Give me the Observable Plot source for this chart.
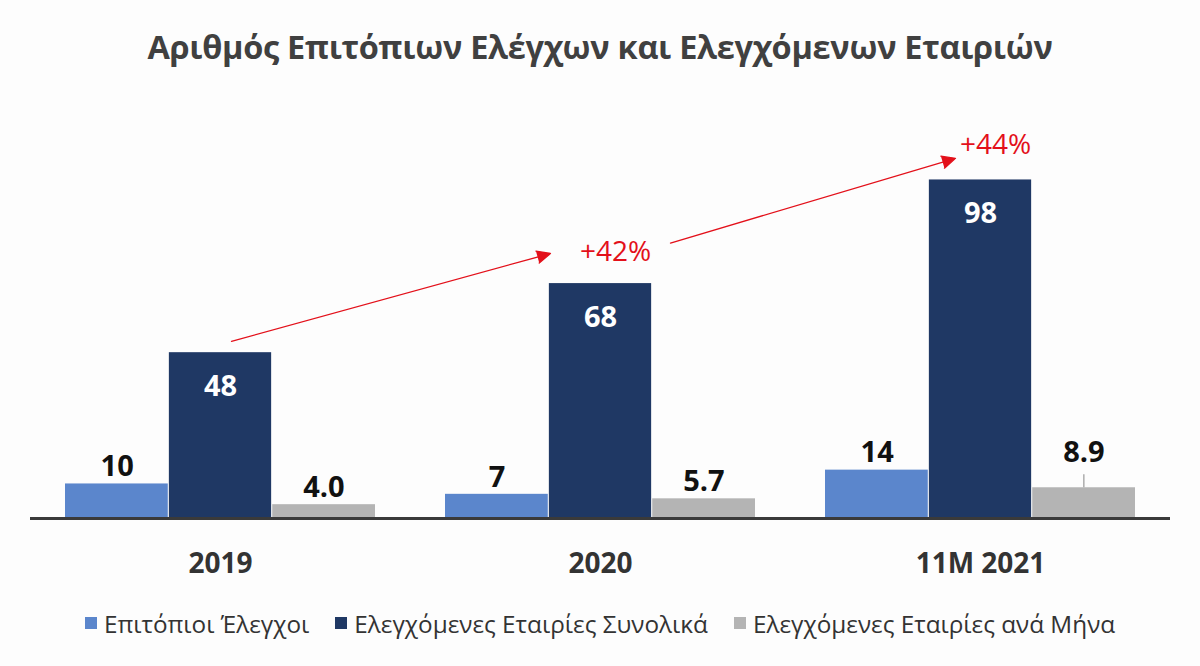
<!DOCTYPE html>
<html>
<head>
<meta charset="utf-8">
<script src="https://cdn.jsdelivr.net/npm/d3@7"></script>
<script src="https://cdn.jsdelivr.net/npm/@observablehq/plot@0.6"></script>
<style>
  html, body { margin: 0; padding: 0; background: #fdfdfd; }
  body { width: 1200px; height: 666px; overflow: hidden; font-family: "Open Sans", sans-serif; }
  #title { height: 100px; box-sizing: border-box; padding-top: 24px; text-align: center;
           font-size: 32.5px; font-weight: 700; color: #404040; letter-spacing: -0.3px; }
  #chart { height: 490px; }
  #legend { height: 76px; display: flex; justify-content: center; align-items: center; gap: 26px;
            font-size: 24.3px; color: #333; padding-bottom: 10px; box-sizing: border-box; }
  .item { display: flex; align-items: center; gap: 7px; }
  .sw { width: 12px; height: 12px; display: inline-block; }
</style>
</head>
<body>
<div id="title">Αριθμός Επιτόπιων Ελέγχων και Ελεγχόμενων Εταιριών</div>
<div id="chart"></div>
<div id="legend"></div>
<script>
// ---- data ----
const years = ["2019", "2020", "11M 2021"];
const seriesNames = ["Επιτόπιοι Έλεγχοι", "Ελεγχόμενες Εταιρίες Συνολικά", "Ελεγχόμενες Εταιρίες ανά Μήνα"];
const seriesColors = ["#5b86cc", "#1f3864", "#b4b4b4"];
const inspections = [10, 7, 14];
const totalCompanies = [48, 68, 98];
const perMonth = [4.0, 5.7, 8.9];
const growthLabels = ["+42%", "+44%"];
const growthLabelValue = [77, 108];
const arrowFrom = ["2019", "2020"];
const arrowTo = ["2020", "11M 2021"];
const arrowFromValue = [50.4, 73.7];
const arrowToValue = [80.7, 106.4];

const rows = years.map((year, i) => ({year, inspections: inspections[i], total: totalCompanies[i], perMonth: perMonth[i]}));
const arrows = arrowFrom.map((f, i) => ({from: f, to: arrowTo[i], v1: arrowFromValue[i], v2: arrowToValue[i]}));
const growth = growthLabels.map((t, i) => ({year: arrowTo[i], label: t, v: growthLabelValue[i]}));

const width = 1200, marginLeft = 30, marginRight = 30;
const pIn = 0.184, pOut = 0.092;
const step = (width - marginLeft - marginRight) / (years.length - pIn + 2 * pOut);
const bw = step * (1 - pIn);
const third = bw / 3;
const gap = 0.5;
const red = "#e3101a";

const chart = Plot.plot({
  width, height: 490,
  marginLeft, marginRight, marginTop: 38, marginBottom: 72,
  x: {domain: years, paddingInner: pIn, paddingOuter: pOut, label: null},
  y: {domain: [0, 110], axis: null},
  style: {fontFamily: "Open Sans, sans-serif", background: "transparent", overflow: "visible"},
  marks: [
    Plot.barY(rows, {x: "year", y: "inspections", fill: seriesColors[0], insetLeft: 0, insetRight: 2 * third + gap}),
    Plot.barY(rows, {x: "year", y: "total", fill: seriesColors[1], insetLeft: third + gap, insetRight: third + gap}),
    Plot.barY(rows, {x: "year", y: "perMonth", fill: seriesColors[2], insetLeft: 2 * third + gap, insetRight: 0}),
    Plot.ruleY([0], {stroke: "#3a3a3a", strokeWidth: 3}),
    Plot.text(rows, {x: "year", y: "inspections", text: d => String(d.inspections), dx: -third, dy: -17,
      lineAnchor: "middle", fontSize: 29, fontWeight: "bold", fill: "#111"}),
    Plot.text(rows, {x: "year", y: "total", text: d => String(d.total), dy: 34,
      lineAnchor: "middle", fontSize: 29, fontWeight: "bold", fill: "white"}),
    Plot.text(rows.slice(0, 2), {x: "year", y: "perMonth", text: d => d.perMonth.toFixed(1), dx: third, dy: -17,
      lineAnchor: "middle", fontSize: 29, fontWeight: "bold", fill: "#111"}),
    Plot.text(rows.slice(2), {x: "year", y: "perMonth", text: d => d.perMonth.toFixed(1), dx: third, dy: -35,
      lineAnchor: "middle", fontSize: 29, fontWeight: "bold", fill: "#111"}),
    Plot.ruleX(rows.slice(2), {x: "year", y1: "perMonth", y2: d => d.perMonth + 3.8, dx: third, stroke: "#999", strokeWidth: 1.2}),
    Plot.arrow(arrows.slice(0, 1), {x1: "from", y1: "v1", x2: "to", y2: "v2", stroke: red, fill: red,
      strokeWidth: 1.3, headLength: 17, headAngle: 50, insetStart: 11.4, insetEnd: 51.9}),
    Plot.arrow(arrows.slice(1), {x1: "from", y1: "v1", x2: "to", y2: "v2", stroke: red, fill: red,
      strokeWidth: 1.3, headLength: 17, headAngle: 50, insetStart: 73, insetEnd: 26.1}),
    Plot.text(growth, {x: "year", y: "v", text: "label", dx: 15, lineAnchor: "middle",
      fontSize: 28, fontWeight: 500, fill: red}),
    Plot.axisX({tickSize: 0, tickPadding: 35, fontSize: 28, fontWeight: "bold", color: "#333"})
  ]
});
document.getElementById("chart").appendChild(chart);

const legend = document.getElementById("legend");
seriesNames.forEach((name, i) => {
  const item = document.createElement("div");
  item.className = "item";
  const sw = document.createElement("span");
  sw.className = "sw";
  sw.style.background = seriesColors[i];
  const label = document.createElement("span");
  label.textContent = name;
  item.appendChild(sw);
  item.appendChild(label);
  legend.appendChild(item);
});
</script>
</body>
</html>
